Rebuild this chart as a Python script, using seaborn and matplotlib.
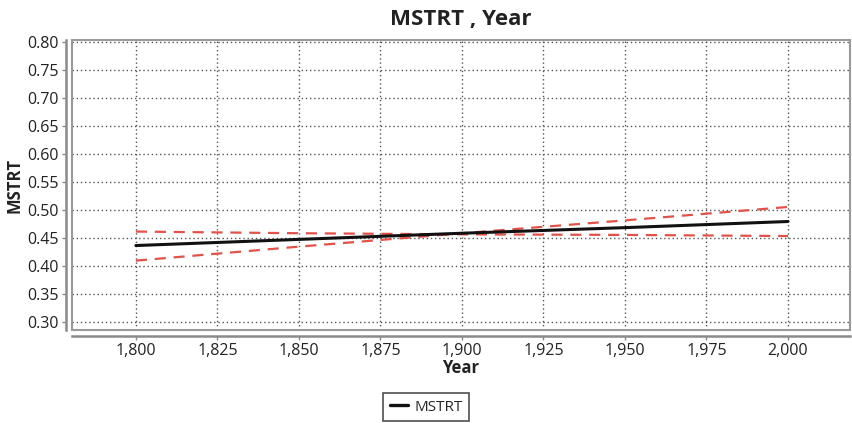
import matplotlib
matplotlib.use("Agg")
import matplotlib.pyplot as plt
import seaborn as sns
import pandas as pd
from matplotlib.lines import Line2D
from matplotlib.patches import Rectangle

# data
years = [1800, 1850, 1900, 1950, 2000]
mstrt = [0.436, 0.447, 0.458, 0.468, 0.479]
band_a = [0.461, 0.458, 0.456, 0.455, 0.453]
band_b = [0.409, 0.434, 0.458, 0.481, 0.505]
x_ticks = [1800, 1825, 1850, 1875, 1900, 1925, 1950, 1975, 2000]
y_ticks = [0.30, 0.35, 0.40, 0.45, 0.50, 0.55, 0.60, 0.65, 0.70, 0.75, 0.80]

sns.set_theme(style="white")
plt.rcParams['font.family'] = ['Open Sans', 'DejaVu Sans']

fig = plt.figure(figsize=(8.52, 4.23), dpi=100)
ax = fig.add_axes([0.0845, 0.2199, 0.9131, 0.6856])

df = pd.DataFrame({"Year": years, "MSTRT": mstrt, "A": band_a, "B": band_b})

sns.lineplot(data=df, x="Year", y="A", ax=ax, color="#e0524a", lw=1.6,
             linestyle=(0, (5, 3.5)), legend=False)
sns.lineplot(data=df, x="Year", y="B", ax=ax, color="#e0524a", lw=1.6,
             linestyle=(0, (5, 3.5)), legend=False)
sns.lineplot(data=df, x="Year", y="MSTRT", ax=ax, color="#111111", lw=2.2,
             legend=False)

ax.set_xlim(1780.4, 2019.0)
ax.set_ylim(0.285, 0.8036)
ax.set_xticks(x_ticks)
ax.set_xticklabels([f"{v:,}" for v in x_ticks])
ax.set_yticks(y_ticks)
ax.set_yticklabels([f"{v:.2f}" for v in y_ticks])
ax.grid(True, color="#555555", linestyle=(0, (1, 2)), linewidth=1.0)

ax.tick_params(axis='y', left=True, length=3, width=1,
               color="#888888", labelsize=11.5, pad=2, labelcolor="#222222")
ax.tick_params(axis='x', bottom=True, length=3, width=1, color="#888888",
               labelsize=11.5, pad=2, labelcolor="#222222")

for s in ["top", "right"]:
    ax.spines[s].set_visible(False)
for s in ["left", "bottom"]:
    ax.spines[s].set_color("#8a8a8a")
    ax.spines[s].set_linewidth(1.8)
    ax.spines[s].set_position(("outward", 4.3))

frame = Rectangle((0, 0), 1, 1, transform=ax.transAxes, fill=False,
                  edgecolor="#9a9a9a", lw=1.5, clip_on=False, zorder=3)
ax.add_patch(frame)

ax.set_title("MSTRT , Year", fontsize=16, fontweight="bold", color="#222222", pad=11)
ax.set_xlabel("Year", fontsize=12, fontweight="bold", color="#222222", labelpad=0)
ax.set_ylabel("MSTRT", fontsize=12, fontweight="bold", color="#222222", labelpad=3)

handle = Line2D([], [], color="#111111", lw=2.4)
leg = fig.legend([handle], ["MSTRT"], loc="center", bbox_to_anchor=(0.5, 0.0378),
                 frameon=True, fancybox=False, fontsize=11, handlelength=1.2,
                 handletextpad=0.4, borderpad=0.42, edgecolor="#222222")
leg.get_frame().set_linewidth(1.2)

fig.savefig("out.png", dpi=100)
